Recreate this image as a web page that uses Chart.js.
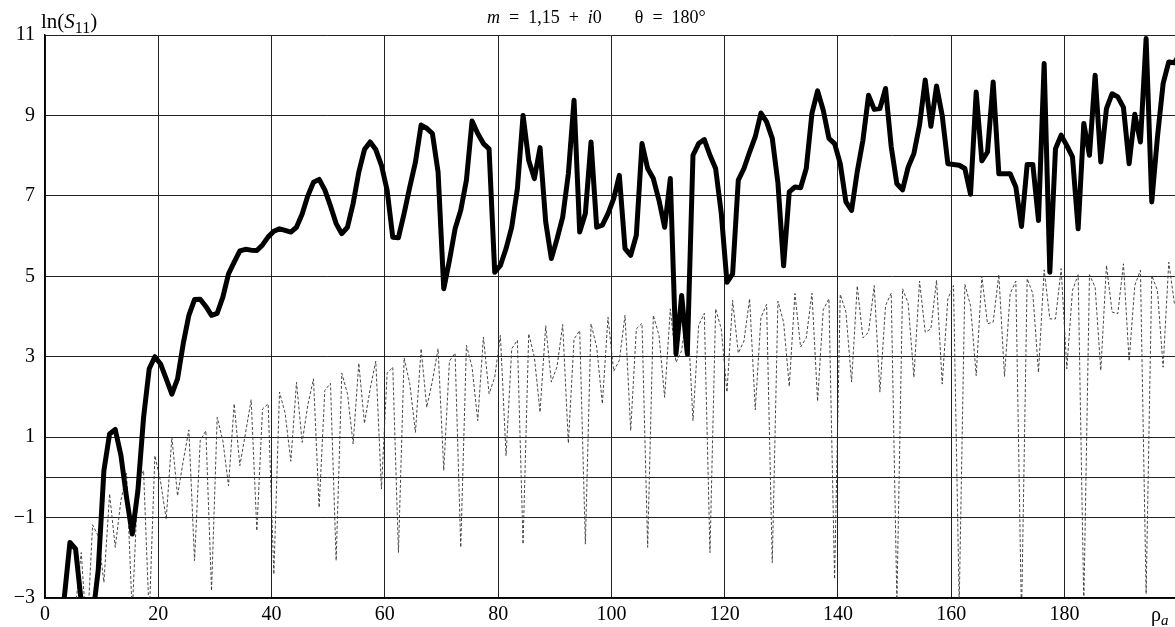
<!DOCTYPE html>
<html>
<head>
<meta charset="utf-8">
<script src="https://cdn.jsdelivr.net/npm/chart.js@4.4.1/dist/chart.umd.min.js"></script>
<style>
    html, body { margin: 0; padding: 0; background: #fff; }
    #chart { display: block; }
</style>
</head>
<body>
<canvas id="chart" width="1175" height="627"></canvas>
<script>
// vertices sit a bit to the right of whole rho values in the scan
const rhoShift = 0.4;

// thick curve, one value per rho step, starting at rho = 3
const thickStart = 3;
const thickValues = [
    -3.0, -1.62, -1.78, -3.1, -4.0, -3.5, -2.3, 0.17, 1.08, 1.19,
    0.55, -0.5, -1.41, -0.33, 1.49, 2.70, 3.0, 2.82, 2.45, 2.07,
    2.45, 3.32, 4.03, 4.42, 4.43, 4.25, 4.03, 4.08, 4.48, 5.06,
    5.35, 5.63, 5.67, 5.65, 5.64, 5.78, 5.98, 6.12, 6.18, 6.14,
    6.10, 6.22, 6.55, 7.0, 7.34, 7.41, 7.15, 6.75, 6.31, 6.06,
    6.22, 6.81, 7.59, 8.15, 8.34, 8.15, 7.76, 7.14, 5.97, 5.96,
    6.56, 7.22, 7.84, 8.76, 8.68, 8.55, 7.59, 4.69, 5.39, 6.18,
    6.64, 7.39, 8.86, 8.55, 8.30, 8.17, 5.10, 5.27, 5.69, 6.22,
    7.18, 9.00, 7.88, 7.43, 8.20, 6.35, 5.44, 5.93, 6.47, 7.55,
    9.38, 6.10, 6.56, 8.34, 6.22, 6.27, 6.56, 6.93, 7.51, 5.69,
    5.52, 6.02, 8.30, 7.68, 7.43, 6.89, 6.22, 7.43, 3.07, 4.52,
    3.07, 8.01, 8.30, 8.40, 8.01, 7.68, 6.56, 4.85, 5.06, 7.39,
    7.68, 8.09, 8.47, 9.06, 8.84, 8.43, 7.32, 5.26, 7.10, 7.22,
    7.20, 7.68, 9.05, 9.61, 9.13, 8.43, 8.30, 7.80, 6.85, 6.64,
    7.6, 8.38, 9.50, 9.15, 9.17, 9.67, 8.22, 7.30, 7.15, 7.72,
    8.05, 8.76, 9.88, 8.73, 9.73, 9.00, 7.80, 7.78, 7.76, 7.68,
    7.04, 9.58, 7.87, 8.09, 9.83, 7.55, 7.55, 7.55, 7.22, 6.24,
    7.78, 7.78, 6.39, 10.29, 5.10, 8.17, 8.51, 8.25, 7.97, 6.18,
    8.80, 8.01, 10.0, 7.84, 9.17, 9.54, 9.46, 9.20, 7.80, 9.03,
    8.34, 10.91, 6.85, 8.46, 9.79, 10.33, 10.31, 10.54
];

// dashed curve, starting at rho = 4
const dashStart = 4;
const dashValues = [
    -4.5, -3.2, -1.87, -4.0, -1.18, -1.46, -2.61, -0.41, -1.74, -0.58,
    0.1, -3.4, -0.1, 0.17, -3.5, 0.54, -0.1, -1.04, 1.0, -0.46,
    0.4, 1.18, -2.07, 0.91, 1.16, -2.82, 1.49, 0.91, -0.21, 1.83,
    0.29, 1.1, 1.93, -1.33, 1.70, 1.83, -2.41, 2.12, 1.59, 0.40,
    2.36, 0.87, 1.8, 2.45, -0.75, 2.16, 2.34, -2.07, 2.59, 2.08,
    0.83, 2.84, 1.34, 2.2, 2.89, -0.29, 2.59, 2.74, -1.87, 2.97,
    2.33, 1.12, 3.20, 1.74, 2.4, 3.20, 0.17, 2.89, 3.09, -1.74,
    3.28, 2.74, 1.41, 3.49, 2.08, 2.49, 3.53, 0.54, 3.20, 3.41,
    -1.66, 3.57, 2.99, 1.62, 3.77, 2.37, 2.75, 3.80, 0.85, 3.44,
    3.65, -1.66, 3.82, 3.24, 1.83, 3.98, 2.64, 2.91, 4.03, 1.16,
    3.69, 3.83, -1.74, 4.03, 3.53, 1.99, 4.19, 2.86, 3.15, 4.2,
    1.41, 3.78, 4.08, -1.87, 4.19, 3.69, 2.12, 4.40, 3.09, 3.39,
    4.44, 1.68, 3.98, 4.30, -2.12, 4.38, 3.86, 2.26, 4.57, 3.24,
    3.47, 4.58, 1.89, 4.17, 4.44, -2.53, 4.55, 4.11, 2.37, 4.76,
    3.47, 3.61, 4.77, 2.12, 4.27, 4.58, -3.1, 4.69, 4.32, 2.49,
    4.88, 3.61, 3.69, 4.90, 2.32, 4.44, 4.77, -3.15, 4.80, 4.27,
    2.53, 5.0, 3.82, 3.86, 5.04, 2.51, 4.57, 4.88, -3.5, 4.94,
    4.57, 2.61, 5.16, 3.94, 3.94, 5.19, 2.70, 4.65, 5.04, -3.15,
    5.04, 4.73, 2.66, 5.27, 4.11, 4.07, 5.31, 2.89, 4.77, 5.15,
    -2.90, 5.02, 4.65, 2.74, 5.35, 4.32
];

const xTicks = [0, 20, 40, 60, 80, 100, 120, 140, 160, 180];
const yTicks = [-3, -1, 0, 1, 3, 5, 7, 9, 11];

const serif = '"Liberation Serif", "DejaVu Serif", serif';
const sp = '\u2002'; // en space, the title uses wide math spacing

function toPoints(start, values) {
    return values.map((v, i) => ({ x: start + i + rhoShift, y: v }));
}

function drawRuns(ctx, runs, x, y) {
    runs.forEach(r => {
        ctx.font = r.font;
        ctx.fillText(r.t, x, y + (r.dy || 0));
        x += ctx.measureText(r.t).width + (r.gap || 0);
    });
}

const headerText = {
    id: 'headerText',
    afterDraw(chart) {
        const ctx = chart.ctx;
        ctx.save();
        ctx.fillStyle = '#000';
        ctx.textBaseline = 'alphabetic';
        ctx.textAlign = 'left';

        drawRuns(ctx, [
            { t: 'ln(', font: '21px ' + serif },
            { t: 'S', font: 'italic 21px ' + serif },
            { t: '11', font: '16px ' + serif, dy: 5 },
            { t: ')', font: '21px ' + serif }
        ], 41, 28);

        drawRuns(ctx, [
            { t: 'm', font: 'italic 18px ' + serif },
            { t: sp + '=' + sp + '1,15' + sp + '+' + sp, font: '18px ' + serif },
            { t: 'i', font: 'italic 18px ' + serif },
            { t: '0', font: '18px ' + serif, gap: 33 },
            { t: 'θ' + sp + '=' + sp + '180°', font: '18px ' + serif }
        ], 487, 23);

        drawRuns(ctx, [
            { t: 'ρ', font: '20px ' + serif },
            { t: 'a', font: 'italic 15px ' + serif, dy: 4 }
        ], 1151, 621);

        ctx.restore();
    }
};

new Chart(document.getElementById('chart'), {
    type: 'line',
    data: {
        datasets: [{
            label: 'thick',
            data: toPoints(thickStart, thickValues),
            borderColor: '#000',
            borderWidth: 5,
            borderJoinStyle: 'round',
            pointRadius: 0,
            tension: 0,
            fill: false
        }, {
            label: 'dashed',
            data: toPoints(dashStart, dashValues),
            borderColor: '#333',
            borderWidth: 0.9,
            borderDash: [3, 2],
            pointRadius: 0,
            tension: 0,
            fill: false
        }]
    },
    options: {
        responsive: false,
        animation: false,
        devicePixelRatio: 1,
        layout: {
            padding: { top: 35, left: 0, right: 0, bottom: 0 }
        },
        plugins: {
            legend: { display: false },
            tooltip: { enabled: false },
            title: { display: false }
        },
        scales: {
            x: {
                type: 'linear',
                min: 0,
                max: 199.5,
                afterBuildTicks: (scale) => {
                    scale.ticks = xTicks.map(v => ({ value: v }));
                },
                afterFit: (scale) => {
                    scale.height = 29;
                },
                ticks: {
                    color: '#000',
                    font: { family: serif, size: 20 },
                    padding: 5,
                    maxRotation: 0,
                    autoSkip: false
                },
                grid: {
                    color: '#222',
                    lineWidth: 1,
                    drawTicks: false
                },
                border: {
                    color: '#000',
                    width: 1.5
                }
            },
            y: {
                min: -3,
                max: 11,
                afterBuildTicks: (scale) => {
                    scale.ticks = yTicks.map(v => ({ value: v }));
                },
                afterFit: (scale) => {
                    scale.width = 45;
                },
                ticks: {
                    color: '#000',
                    font: { family: serif, size: 20 },
                    padding: 10,
                    autoSkip: false,
                    callback: (value) => value === 0 ? '' : String(value).replace('-', '\u2212')
                },
                grid: {
                    color: '#222',
                    lineWidth: 1,
                    drawTicks: false
                },
                border: {
                    color: '#000',
                    width: 1.5
                }
            }
        }
    },
    plugins: [headerText]
});
</script>
</body>
</html>
